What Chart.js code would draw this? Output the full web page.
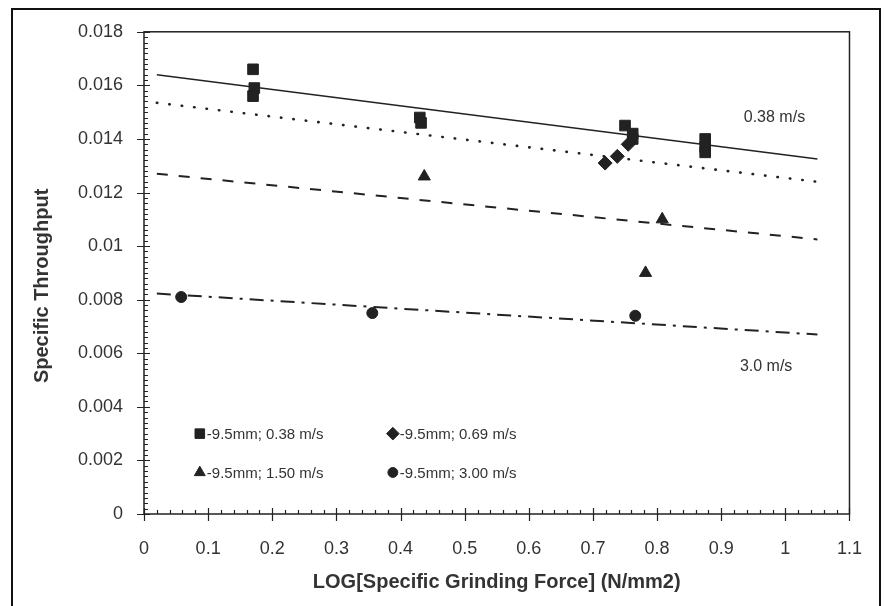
<!DOCTYPE html>
<html>
<head>
<meta charset="utf-8">
<script src="https://cdn.jsdelivr.net/npm/chart.js@4.4.1/dist/chart.umd.min.js"></script>
<style>
  body { margin: 0; background: #fff; }
  #wrap { position: relative; width: 886px; height: 606px; overflow: hidden; }
  #frame { position: absolute; left: 11px; top: 8px; width: 866px; height: 620px;
           border: 2px solid #111; border-bottom: none; pointer-events: none; }
</style>
</head>
<body>
<div id="wrap">
  <canvas id="chart" width="886" height="606"></canvas>
  <div id="frame"></div>
</div>
<script>
// measured points, x = LOG[specific grinding force], y = specific throughput
const sq038X = [0.17, 0.172, 0.17, 0.43, 0.432, 0.75, 0.762, 0.762, 0.875, 0.875, 0.875];
const sq038Y = [0.0166, 0.0159, 0.0156, 0.0148, 0.0146, 0.0145, 0.0142, 0.0140, 0.0140, 0.0137, 0.0135];
const dia069X = [0.719, 0.738, 0.755];
const dia069Y = [0.0131, 0.01335, 0.0138];
const tri150X = [0.437, 0.808, 0.782];
const tri150Y = [0.0126, 0.0110, 0.0090];
const cir300X = [0.058, 0.356, 0.766];
const cir300Y = [0.0081, 0.0075, 0.0074];

// fitted trend lines (start / end)
const fitX = [0.02, 1.05];
const fit038 = [0.0164, 0.01325];
const fit069 = [0.01535, 0.0124];
const fit150 = [0.0127, 0.01025];
const fit300 = [0.00823, 0.0067];

const legendLabels = ['-9.5mm; 0.38 m/s', '-9.5mm; 0.69 m/s', '-9.5mm; 1.50 m/s', '-9.5mm; 3.00 m/s'];
const noteText = ['0.38 m/s', '3.0 m/s'];
const noteX = [0.983, 0.97];
const noteY = [0.0148, 0.0055];

const ink = '#222';
const textInk = '#333';
const font = 'Liberation Sans, Arial, Helvetica, sans-serif';

const markers = [
  ['rect', 7.5], ['rectRot', 7], ['triangle', 7], ['circle', 5.5]
];

function pts(xs, ys){
  return xs.map((x, i) => ({x: x, y: ys[i]}));
}

function fitSet(ys, dash, width, cap){
  return {
    type: 'scatter', showLine: true, data: pts(fitX, ys),
    borderColor: ink, borderWidth: width, borderDash: dash, borderCapStyle: cap || 'butt',
    pointRadius: 0, fill: false, order: 2
  };
}

function markSet(k, xs, ys){
  return {
    label: legendLabels[k], data: pts(xs, ys),
    pointStyle: markers[k][0], pointRadius: markers[k][1],
    backgroundColor: ink, borderColor: ink, borderWidth: 1, order: 1
  };
}

function drawMark(ctx, style, r, x, y){
  if (Chart.helpers && Chart.helpers.drawPoint) {
    Chart.helpers.drawPoint(ctx, {pointStyle: style, radius: r, rotation: 0, borderWidth: 1}, x, y);
  }
}

const decor = {
  id: 'decor',
  afterDraw(chart){
    const {ctx, chartArea: a, scales: {x, y}} = chart;
    ctx.save();
    ctx.strokeStyle = ink;
    ctx.lineWidth = 1.5;
    ctx.strokeRect(a.left, a.top, a.right - a.left, a.bottom - a.top);

    // major ticks cross the axes, minor ticks point inward
    ctx.lineWidth = 1.2;
    ctx.beginPath();
    for (let i = 0; i <= 90; i++) {
      const py = Math.round(y.getPixelForValue(i * 0.0002)) + 0.5;
      if (i % 10 === 0) { ctx.moveTo(a.left - 7, py); ctx.lineTo(a.left + 6, py); }
      else { ctx.moveTo(a.left, py); ctx.lineTo(a.left + 4, py); }
    }
    for (let i = 0; i <= 55; i++) {
      const px = Math.round(x.getPixelForValue(i * 0.02)) + 0.5;
      if (i % 5 === 0) { ctx.moveTo(px, a.bottom + 7); ctx.lineTo(px, a.bottom - 6); }
      else { ctx.moveTo(px, a.bottom); ctx.lineTo(px, a.bottom - 4); }
    }
    ctx.stroke();

    // y title, sits a little below the middle in the original
    ctx.fillStyle = textInk;
    ctx.font = 'bold 20px ' + font;
    ctx.textAlign = 'center';
    ctx.textBaseline = 'middle';
    ctx.save();
    ctx.translate(42, (a.top + a.bottom) / 2 + 13);
    ctx.rotate(-Math.PI / 2);
    ctx.fillText('Specific Throughput', 0, 0);
    ctx.restore();

    // in-plot notes
    ctx.font = '16px ' + font;
    noteText.forEach((t, i) => {
      ctx.fillText(t, x.getPixelForValue(noteX[i]), y.getPixelForValue(noteY[i]));
    });

    // legend, two columns inside the plot
    ctx.textAlign = 'left';
    ctx.font = '15px ' + font;
    const colX = [0.087, 0.388];
    const rowY = [0.0030, 0.00155];
    legendLabels.forEach((lab, k) => {
      const px = x.getPixelForValue(colX[k % 2]);
      const py = y.getPixelForValue(rowY[Math.floor(k / 2)]);
      ctx.fillStyle = ink;
      ctx.strokeStyle = ink;
      ctx.lineWidth = 1;
      drawMark(ctx, markers[k][0], markers[k][1] * 0.9, px, py);
      ctx.fillStyle = textInk;
      ctx.fillText(lab, px + 7, py + 1);
    });
    ctx.restore();
  }
};

new Chart(document.getElementById('chart'), {
  type: 'scatter',
  data: {
    datasets: [
      markSet(0, sq038X, sq038Y),
      markSet(1, dia069X, dia069Y),
      markSet(2, tri150X, tri150Y),
      markSet(3, cir300X, cir300Y),
      fitSet(fit038, [], 1.5),
      fitSet(fit069, [0.5, 12], 2.6, 'round'),
      fitSet(fit150, [11, 11], 2),
      fitSet(fit300, [14, 7, 3, 7], 2)
    ]
  },
  options: {
    responsive: false,
    animation: false,
    layout: { padding: { left: 0, top: 28, right: 30, bottom: 0 } },
    plugins: { legend: { display: false }, tooltip: { enabled: false } },
    scales: {
      x: {
        type: 'linear', min: 0, max: 1.1,
        afterFit(s){ s.height = 92; },
        grid: { display: false, drawTicks: false },
        border: { display: false },
        ticks: {
          stepSize: 0.1, padding: 24, color: textInk,
          font: { family: font, size: 18 },
          callback: v => String(+v.toFixed(1))
        },
        title: {
          display: true, text: 'LOG[Specific Grinding Force] (N/mm2)', color: textInk,
          font: { family: font, size: 20, weight: 'bold' }, padding: { top: 0, bottom: 12 }
        }
      },
      y: {
        type: 'linear', min: 0, max: 0.018,
        afterFit(s){ s.width = 144; },
        grid: { display: false, drawTicks: false },
        border: { display: false },
        ticks: {
          stepSize: 0.002, padding: 21, color: textInk,
          font: { family: font, size: 18 },
          callback: v => String(+v.toFixed(3))
        }
      }
    }
  },
  plugins: [decor]
});
</script>
</body>
</html>
